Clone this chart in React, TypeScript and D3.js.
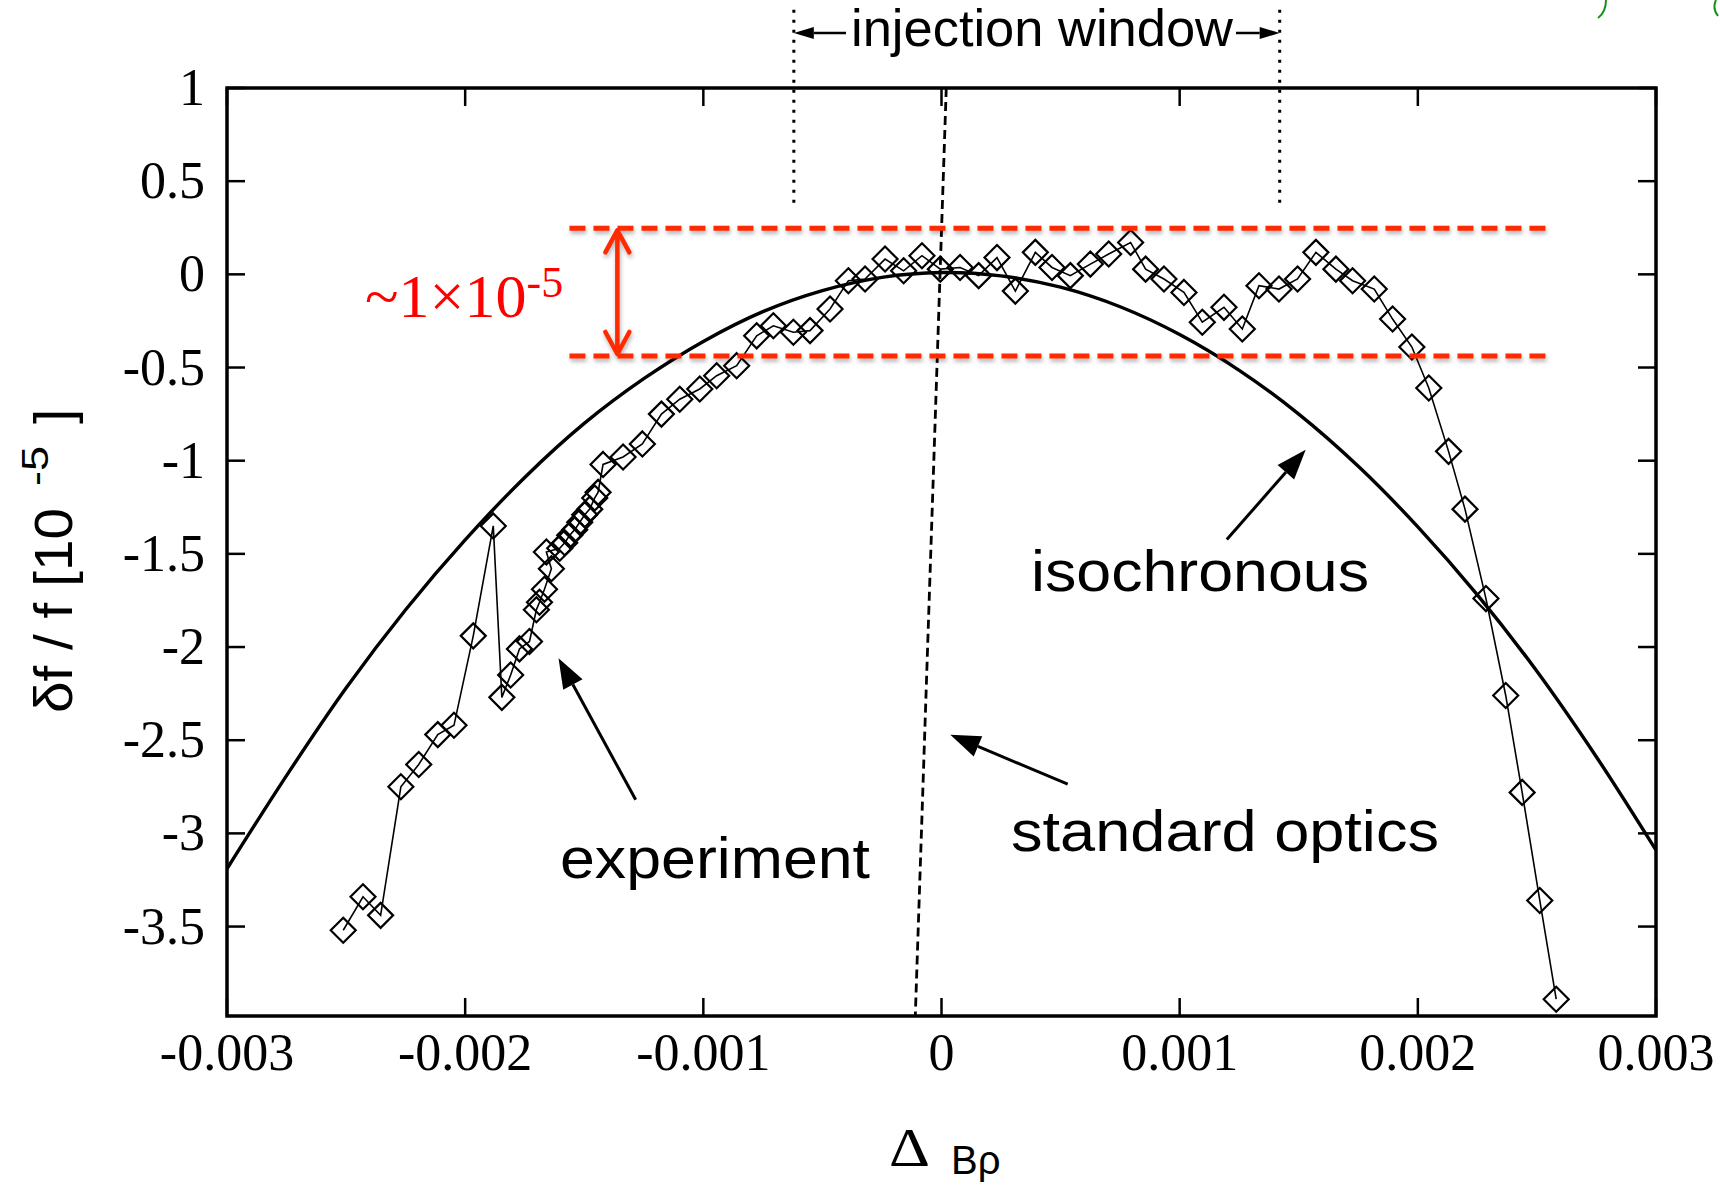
import React from 'react';
import * as d3 from 'd3';

const W = 1720;
const H = 1186;
const margin = { top: 88, right: 64, bottom: 170, left: 227 };

const expX = [
  -0.002512, -0.002429, -0.002355, -0.00227, -0.002195, -0.002115, -0.002047, -0.001966, -0.001882, -0.001846,
  -0.001809, -0.001772, -0.00173, -0.001701, -0.001688, -0.001667, -0.001638, -0.001659, -0.001603, -0.001582,
  -0.001561, -0.00154, -0.001519, -0.001498, -0.001477, -0.001456, -0.001442, -0.001421, -0.001337, -0.001256,
  -0.001176, -0.001099, -0.001015, -0.000944, -0.00086, -0.000776, -0.000706, -0.000622, -0.000552, -0.000468,
  -0.000391, -0.000321, -0.000237, -0.000159, -0.000082, -0.000005, 0.000078, 0.000156, 0.000233, 0.00031,
  0.000394, 0.000464, 0.000541, 0.000625, 0.000702, 0.000794, 0.000857, 0.000934, 0.001018, 0.001095,
  0.001186, 0.001263, 0.001333, 0.001417, 0.001495, 0.001572, 0.001656, 0.001726, 0.001817, 0.001894,
  0.001975, 0.002046, 0.002129, 0.002198, 0.002286, 0.002369, 0.002438, 0.002512, 0.002581,
];
const expY = [
  -3.52, -3.34, -3.44, -2.75, -2.63, -2.47, -2.42, -1.94, -1.35, -2.27,
  -2.15, -2.01, -1.97, -1.8, -1.76, -1.69, -1.58, -1.49, -1.47, -1.44,
  -1.4, -1.37, -1.33, -1.29, -1.26, -1.2, -1.17, -1.02, -0.98, -0.91,
  -0.75, -0.67, -0.615, -0.544, -0.49, -0.33, -0.276, -0.311, -0.302, -0.186,
  -0.034, -0.025, 0.082, 0.019, 0.1, 0.028, 0.037, -0.007, 0.09, -0.09,
  0.118, 0.037, -0.007, 0.055, 0.109, 0.171, 0.028, -0.025, -0.097, -0.257,
  -0.177, -0.293, -0.061, -0.079, -0.025, 0.118, 0.028, -0.034, -0.079, -0.24,
  -0.39, -0.61, -0.95, -1.26, -1.74, -2.26, -2.78, -3.36, -3.89,
];

// isochronous optics curve, sampled off the figure
const isoX = [
  -0.003, -0.00275, -0.0025, -0.00225, -0.002, -0.00175, -0.0015, -0.00125, -0.001, -0.00075, -0.0005, -0.00025, 0,
  0.00025, 0.0005, 0.00075, 0.001, 0.00125, 0.0015, 0.00175, 0.002, 0.00225, 0.0025, 0.00275, 0.003,
];
const isoY = [
  -3.19, -2.69, -2.22, -1.8, -1.425, -1.09, -0.8, -0.56, -0.36, -0.2, -0.087, -0.016, 0.01,
  -0.008, -0.069, -0.174, -0.323, -0.515, -0.75, -1.03, -1.355, -1.72, -2.13, -2.59, -3.09,
];

// standard optics: nearly vertical dashed line
const stdX = [0.00002, -0.00011];
const stdY = [1, -3.98];

const xTicks = [-0.003, -0.002, -0.001, 0, 0.001, 0.002, 0.003];
const xTickLabels = ['-0.003', '-0.002', '-0.001', '0', '0.001', '0.002', '0.003'];
const yTicks = [1, 0.5, 0, -0.5, -1, -1.5, -2, -2.5, -3, -3.5];
const yTickLabels = ['1', '0.5', '0', '-0.5', '-1', '-1.5', '-2', '-2.5', '-3', '-3.5'];

// annotations (data units)
const injectionWindow = [-0.00062, 0.00142];
const injectionY = [0.35, 1.42];
const bandX = [-0.001562, 0.002539];
const bandY = [0.247, -0.438];
const bandArrowX = -0.001361;

const SERIF = '"Liberation Serif", "Times New Roman", serif';
const SANS = '"Liberation Sans", Arial, Helvetica, sans-serif';

const Arrow = ({ x1, y1, x2, y2, len = 30, hw = 11, width = 3, color = '#000' }) => {
  const a = Math.atan2(y2 - y1, x2 - x1);
  const bx = x2 - len * Math.cos(a);
  const by = y2 - len * Math.sin(a);
  const px = -Math.sin(a) * hw;
  const py = Math.cos(a) * hw;
  return (
    <g>
      <line x1={x1} y1={y1} x2={bx} y2={by} stroke={color} strokeWidth={width} />
      <polygon points={`${x2},${y2} ${bx + px},${by + py} ${bx - px},${by - py}`} fill={color} />
    </g>
  );
};

export default function App() {
  const innerW = W - margin.left - margin.right;
  const innerH = H - margin.top - margin.bottom;

  const x = d3.scaleLinear().domain([-0.003, 0.003]).range([margin.left, margin.left + innerW]);
  const y = d3.scaleLinear().domain([-3.98, 1]).range([margin.top + innerH, margin.top]);

  const expData = expX.map((v, i) => [v, expY[i]]);
  const isoData = isoX.map((v, i) => [v, isoY[i]]);

  const expLine = d3.line().x(d => x(d[0])).y(d => y(d[1]));
  const isoLine = d3.line().x(d => x(d[0])).y(d => y(d[1])).curve(d3.curveCatmullRom);

  const r = 12.5;
  const diamond = `M0,${-r}L${r},0L0,${r}L${-r},0Z`;

  const left = x(-0.003);
  const right = x(0.003);
  const top = y(1);
  const bottom = y(-3.98);
  const tick = 18;

  const redTop = y(bandY[0]);
  const redBot = y(bandY[1]);
  const ax = x(bandArrowX);
  const red = '#ff2a00';

  return (
    <svg width={W} height={H} style={{ position: 'absolute', left: 0, top: 0, background: '#fff' }}>
      <defs>
        <clipPath id="plotClip">
          <rect x={left} y={top} width={right - left} height={bottom - top} />
        </clipPath>
        <filter id="shadow" x="-5%" y="-200%" width="110%" height="500%">
          <feDropShadow dx="1" dy="3" stdDeviation="2" floodColor="#000" floodOpacity="0.3" />
        </filter>
      </defs>
      <rect width={W} height={H} fill="#fff" />

      {/* frame */}
      <rect x={left} y={top} width={right - left} height={bottom - top} fill="none" stroke="#000" strokeWidth={3.5} />

      {/* ticks */}
      {xTicks.map((t, i) => (
        <g key={'xt' + i}>
          <line x1={x(t)} x2={x(t)} y1={bottom} y2={bottom - tick} stroke="#000" strokeWidth={2.5} />
          <line x1={x(t)} x2={x(t)} y1={top} y2={top + tick} stroke="#000" strokeWidth={2.5} />
          <text x={x(t)} y={1070} textAnchor="middle" fontFamily={SERIF} fontSize={52} fill="#000">
            {xTickLabels[i]}
          </text>
        </g>
      ))}
      {yTicks.map((t, i) => (
        <g key={'yt' + i}>
          <line x1={left} x2={left + tick} y1={y(t)} y2={y(t)} stroke="#000" strokeWidth={2.5} />
          <line x1={right} x2={right - tick} y1={y(t)} y2={y(t)} stroke="#000" strokeWidth={2.5} />
          <text x={205} y={y(t) + 17} textAnchor="end" fontFamily={SERIF} fontSize={52} fill="#000">
            {yTickLabels[i]}
          </text>
        </g>
      ))}

      {/* injection window */}
      {injectionWindow.map((v, i) => (
        <line key={'iw' + i} x1={x(v)} x2={x(v)} y1={y(injectionY[1])} y2={y(injectionY[0])}
          stroke="#000" strokeWidth={3} strokeDasharray="3 7" />
      ))}
      <text x={851} y={46} fontFamily={SANS} fontSize={52} textLength={382} lengthAdjust="spacingAndGlyphs" fill="#000">
        injection window
      </text>
      <Arrow x1={846} y1={33} x2={x(injectionWindow[0])} y2={33} len={20} hw={6} width={2.5} />
      <Arrow x1={1236} y1={33} x2={x(injectionWindow[1])} y2={33} len={20} hw={6} width={2.5} />

      <g clipPath="url(#plotClip)">
        {/* standard optics */}
        <line x1={x(stdX[0])} y1={y(stdY[0])} x2={x(stdX[1])} y2={y(stdY[1])}
          stroke="#000" strokeWidth={2.8} strokeDasharray="9 5" />
        {/* isochronous */}
        <path d={isoLine(isoData)} fill="none" stroke="#000" strokeWidth={3.4} />
      </g>

      {/* experiment */}
      <path d={expLine(expData)} fill="none" stroke="#000" strokeWidth={1.6} />
      {expData.map((d, i) => (
        <path key={'p' + i} d={diamond} transform={`translate(${x(d[0])},${y(d[1])})`}
          fill="none" stroke="#000" strokeWidth={2.2} />
      ))}

      {/* red band */}
      <g filter="url(#shadow)">
        {bandY.map((v, i) => (
          <line key={'rb' + i} x1={x(bandX[0])} x2={x(bandX[1])} y1={y(v)} y2={y(v)}
            stroke={red} strokeWidth={5} strokeDasharray="16 8" />
        ))}
        <line x1={ax} x2={ax} y1={redTop + 2} y2={redBot - 2} stroke={red} strokeWidth={4.5} />
        <polyline points={`${ax - 12},${redTop + 24} ${ax},${redTop + 2} ${ax + 12},${redTop + 24}`}
          fill="none" stroke={red} strokeWidth={4.5} strokeLinecap="round" strokeLinejoin="round" />
        <polyline points={`${ax - 12},${redBot - 24} ${ax},${redBot - 2} ${ax + 12},${redBot - 24}`}
          fill="none" stroke={red} strokeWidth={4.5} strokeLinecap="round" strokeLinejoin="round" />
      </g>
      <text x={365} y={317} fontFamily={SERIF} fontSize={62} fill="#ff0000">
        <tspan>~1×10</tspan>
        <tspan fontSize={44} dy={-20}>-5</tspan>
      </text>

      {/* annotations */}
      <text x={1031} y={591} fontFamily={SANS} fontSize={58} textLength={338} lengthAdjust="spacingAndGlyphs" fill="#000">
        isochronous
      </text>
      <Arrow x1={x(0.001198)} y1={y(-1.423)} x2={x(0.001529)} y2={y(-0.941)} />

      <text x={560} y={878} fontFamily={SANS} fontSize={58} textLength={310} lengthAdjust="spacingAndGlyphs" fill="#000">
        experiment
      </text>
      <Arrow x1={x(-0.001284)} y1={y(-2.82)} x2={x(-0.001608)} y2={y(-2.06)} />

      <text x={1011} y={851} fontFamily={SANS} fontSize={58} textLength={428} lengthAdjust="spacingAndGlyphs" fill="#000">
        standard optics
      </text>
      <Arrow x1={x(0.00053)} y1={y(-2.736)} x2={x(0.000037)} y2={y(-2.471)} />

      {/* axis labels */}
      <g transform="translate(72,560) rotate(-90)">
        <text x={-153} y={0} fontFamily={SANS} fontSize={54} textLength={205} lengthAdjust="spacingAndGlyphs" fill="#000">
          δf / f [10
        </text>
        <text x={74} y={-24} fontFamily={SANS} fontSize={36} textLength={40} lengthAdjust="spacingAndGlyphs" fill="#000">
          -5
        </text>
        <text x={136} y={0} fontFamily={SANS} fontSize={54} fill="#000">]</text>
      </g>
      <text x={889} y={1166} fontFamily={SERIF} fontSize={54} textLength={41} lengthAdjust="spacingAndGlyphs" fill="#000">Δ</text>
      <text x={951} y={1174} fontFamily={SANS} fontSize={40} fill="#000">Bρ</text>

      {/* cropped green marks at the corner */}
      <path d="M1606,0 Q1606,12 1598,18" fill="none" stroke="#1a8f1a" strokeWidth={2} />
      <path d="M1716,0 Q1712,8 1718,16" fill="none" stroke="#1a8f1a" strokeWidth={2} />
    </svg>
  );
}
